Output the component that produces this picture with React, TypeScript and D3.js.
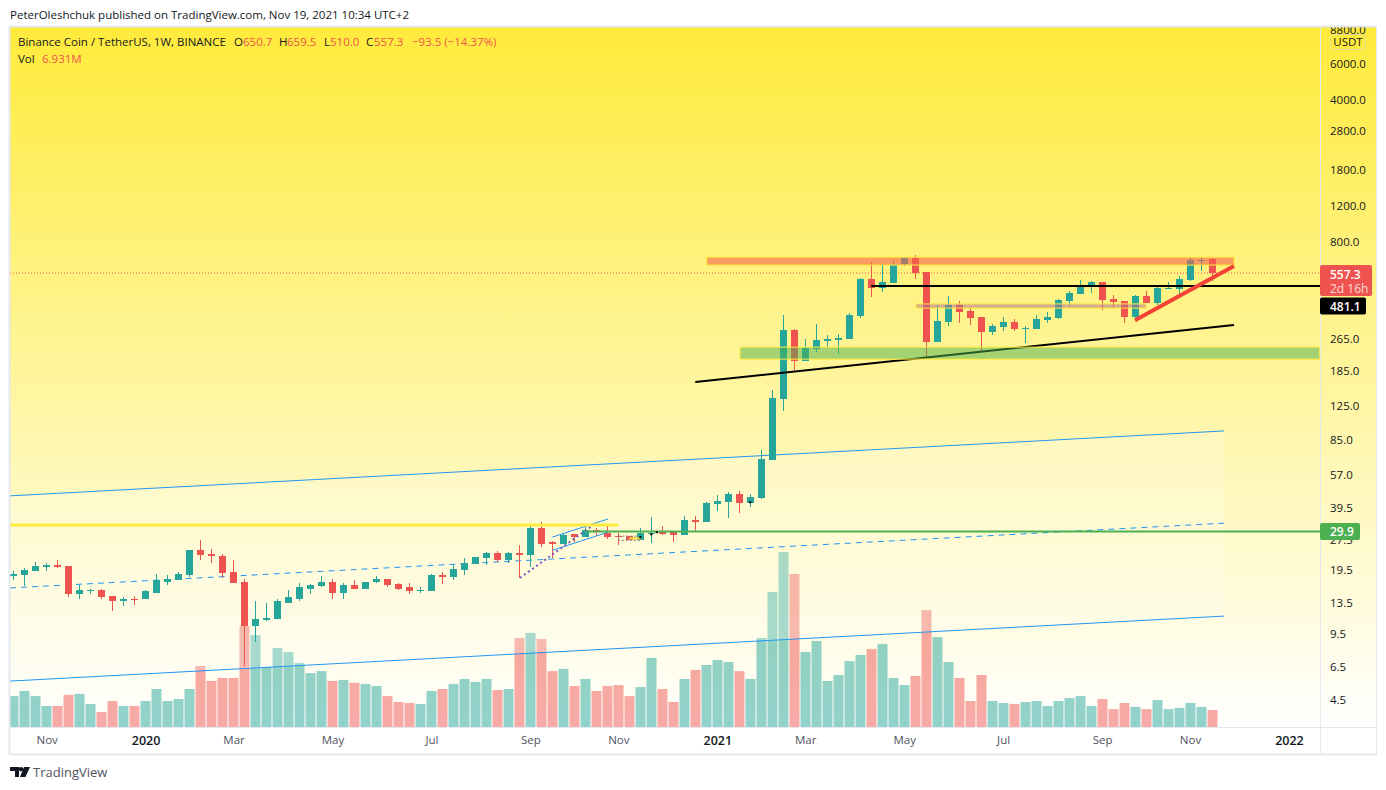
import { useEffect, useRef } from "react";
import * as d3 from "d3";

const opens = [18.1,18.3,19.1,20.0,20.4,20.2,14.7,15.2,15.5,14.35,13.6,14.0,13.9,15.0,17.0,17.2,18.3,24.2,23.1,22.6,18.9,16.9,10.25,10.96,11.1,13.4,14.0,15.7,16.1,17.0,15.0,16.3,15.7,16.9,17.5,16.5,15.9,15.2,15.2,18.3,17.9,19.3,20.7,22.1,23.4,21.6,23.4,22.9,31.1,26.5,25.9,29.0,28.1,30.4,29.4,28.4,28.4,27.1,29.0,29.7,29.7,28.7,34.0,33.3,40.8,41.7,45.7,41.3,43.7,67.1,134,292,205.7,236,258,261,264,343,521,470,498,617,660.5,564,255,320,388,363,339,286,302.5,320,296,296,327,335,406,440,476,504,415.5,406,339,430,397,465,465,515,638,650.7];
const highs = [19.1,19.8,21.1,20.9,21.6,20.3,16.3,15.7,15.7,14.35,14.2,14.35,15.4,18.5,18.3,18.9,24.2,27.1,24.5,23.1,21.6,17.5,13.6,13.3,14.0,15.4,16.7,16.5,18.1,17.5,16.7,17.2,17.0,18.1,17.5,16.7,16.7,15.9,18.5,18.9,20.4,22.1,22.4,23.7,23.9,23.7,25.6,32.1,33.3,26.8,29.4,29.0,31.8,31.1,32.1,29.4,28.4,31.1,35.2,31.8,29.7,35.6,35.6,41.7,45.2,46.7,47.2,45.7,75.1,148,347,296,264,313,276,279.5,355,527,631,610,638,668,683,564,388,430,406,375,339,313,339,331,306,347,359,415.5,455,515,509,504,435,406,435,455,476,504,539,668,660.5,659.5];
const lows = [17.2,16.1,19.1,19.1,19.8,14.2,13.9,14.7,14.0,12.15,12.85,13.0,13.9,14.85,16.3,17.2,17.9,21.6,20.9,17.7,16.7,6.5,8.6,10.84,11.1,13.4,13.6,14.7,15.9,13.9,13.9,15.7,15.7,16.7,15.9,15.4,14.7,15.0,15.2,16.5,17.2,18.3,20.7,20.4,21.1,20.9,17.7,20.0,25.0,22.1,25.9,26.5,28.1,28.4,27.4,25.6,27.1,27.1,26.2,28.7,26.5,28.7,29.7,33.3,37.7,34.8,36.9,39.5,43.2,67.1,117,186,205.7,228,241,222.5,264,335,425,450,498,603,521,215,255,306,316.5,309.5,228,276,289,289,252.5,296,316.5,331,384,440,445,367,380,316.5,327,397,388,465,440,509,570,510];
const closes = [18.5,19.3,20.2,20.4,20.0,14.7,15.4,15.5,14.2,13.6,14.0,13.9,15.2,17.2,17.5,18.5,24.2,22.9,22.6,18.7,16.7,10.25,11.1,11.2,13.6,14.2,15.9,16.3,17.0,15.0,16.3,15.7,17.0,17.5,16.3,15.7,15.2,15.4,18.3,17.9,19.5,20.9,22.4,23.4,21.6,23.4,22.9,31.1,25.9,25.9,28.7,28.1,30.4,29.7,28.1,28.1,27.1,29.4,29.4,29.0,28.7,34.0,33.3,41.3,42.2,45.7,41.3,44.2,68,135,292,205.7,238.5,261,264,267,347,521,470,504,610,660.5,557,255,324,388,359,335,286,306,320,296,299,331,339,411,445,476,504,411,402,339,430,397,470,470,521,645.6,645.6,557.3];
// volume in millions
const volumes = [12.6,14.7,12.6,8.6,8.6,13.1,13.5,9.4,6.1,10.6,8.6,8.6,10.6,15.5,10.6,11.4,15.5,24.9,18.8,20.0,20.0,41.2,37.5,24.5,32.2,30.6,26.1,22.0,22.8,18.8,19.2,18.0,17.5,16.7,12.6,10.2,9.8,9.4,14.7,15.5,17.5,19.6,18.4,19.6,15.1,15.5,36.3,38.4,35.9,22.8,23.7,16.7,19.6,14.7,16.7,17.1,12.6,16.3,28.2,15.5,10.2,19.6,23.3,25.3,27.3,26.5,22.8,19.6,36.3,55.1,71.4,62.4,30.6,35.1,18.8,21.2,26.9,29.4,31.8,33.9,20.0,17.1,20.8,47.7,36.7,26.5,20.0,10.6,21.2,10.6,9.8,9.4,10.2,10.6,8.6,10.6,11.8,12.6,8.6,11.4,7.3,9.8,8.2,7.3,11.0,7.3,7.8,9.8,8.2,6.931];

const priceTicks = [8800,6000,4000,2800,1800,1200,800,265,185,125,85,57,39.5,27.5,19.5,13.5,9.5,6.5,4.5];
const timeTickBars = [3,12,20,29,38,47,55,64,72,81,90,99,107,116];
const timeTickLabels = ["Nov","2020","Mar","May","Jul","Sep","Nov","2021","Mar","May","Jul","Sep","Nov","2022"];

// drawings, as [bar number, price]
const channelUpper = [[-0.34,44.8],[110.1,93.4]];
const channelMiddle = [[-0.34,15.8],[110.1,32.9]];
const channelLower = [[-0.34,5.51],[110.1,11.5]];
const flagUpper = [[49,28.1],[54.06,34.5]];
const flagLower = [[49,24.2],[54.06,29.7]];
const flagPole = [[46.05,17.7],[52.7,32.2]];
const oldResistance = [[-0.34,32.2],[55,32.2]];
const smallRange = [[55,28.4],[57.06,27.1]];
const smallRangeMid = [[56,27.7],[57,27.7]];
const blackMarks = [[57,28.1],[58,29],[58.5,29.7],[67,41.7]];
const supportLine = [[62,162.5],[111,309.6]];
const risingLine = [[102,327],[111,603]];
const topZone = [[63.05,667],[111,610]];
const midZone = [[82.08,393],[103,375]];
const baseZone = [[66.07,241],[118.8,210.5]];
const levelBlackStart = 78;
const levelGreenStart = 52;
const levelBlack = 481.1;
const levelGreen = 29.9;
const lastClose = 557.3;

const legendPieces: [string, number, boolean][] = [
  ["Binance Coin / TetherUS, 1W, BINANCE", 18, false],
  ["O", 234, false],
  ["650.7", 243, true],
  ["H", 279, false],
  ["659.5", 287, true],
  ["L", 324, false],
  ["510.0", 330, true],
  ["C", 366, false],
  ["557.3", 374, true],
  ["\u221293.5 (\u221214.37%)", 412, true],
];

const UP = "#26a69a";
const DOWN = "#ef5350";
const FONT = "'Open Sans', sans-serif";

const App = () => {
  const svgRef = useRef<SVGSVGElement>(null);

  useEffect(() => {
    const svg = d3.select(svgRef.current);
    svg.selectAll("*").remove();

    const left = 10;
    const right = 1320;
    const paneRight = 1376;
    const top = 27;
    const bottom = 727;

    const x = d3.scaleLinear().domain([0, 109]).range([13.7, 1212]);
    const y = d3.scaleLog().domain([6000, 4.5]).range([63, 699]);
    const yVol = d3.scaleLinear().domain([0, 71.4]).range([727, 552]);
    const px = (i: number) => Math.round(x(i) - 0.5) + 0.5;
    const line = d3
      .line<number[]>()
      .x((d) => x(d[0]))
      .y((d) => y(d[1]));

    const defs = svg.append("defs");
    const grad = defs
      .append("linearGradient")
      .attr("id", "bg")
      .attr("x1", 0)
      .attr("y1", 0)
      .attr("x2", 0)
      .attr("y2", 1);
    grad.append("stop").attr("offset", 0).attr("stop-color", "#ffeb3b");
    grad.append("stop").attr("offset", 1).attr("stop-color", "#ffffff");
    defs
      .append("clipPath")
      .attr("id", "plot")
      .append("rect")
      .attr("x", left)
      .attr("y", top)
      .attr("width", right - left)
      .attr("height", bottom - top);
    defs
      .append("clipPath")
      .attr("id", "pane")
      .append("rect")
      .attr("x", right)
      .attr("y", top)
      .attr("width", paneRight - right)
      .attr("height", bottom - top);

    svg
      .append("rect")
      .attr("width", 1386)
      .attr("height", 790)
      .attr("fill", "#fff");
    svg
      .append("rect")
      .attr("x", left)
      .attr("y", top)
      .attr("width", paneRight - left)
      .attr("height", bottom - top)
      .attr("fill", "url(#bg)");

    const plot = svg.append("g").attr("clip-path", "url(#plot)");

    // volume
    plot
      .append("g")
      .selectAll("rect")
      .data(volumes)
      .join("rect")
      .attr("x", (_, i) => px(i) - 5)
      .attr("y", (d) => yVol(d))
      .attr("width", 10)
      .attr("height", (d) => yVol(0) - yVol(d))
      .attr("fill", (_, i) => (closes[i] >= opens[i] ? UP : DOWN))
      .attr("fill-opacity", 0.5);

    // channel fill sits over the volume, under the candles
    const channelShape = [...channelUpper, ...[...channelLower].reverse()];
    plot
      .append("path")
      .attr("d", line(channelShape) + "Z")
      .attr("fill", "#fff")
      .attr("fill-opacity", 0.2);
    [channelUpper, channelMiddle, channelLower].forEach((pts, k) => {
      plot
        .append("path")
        .attr("d", line(pts))
        .attr("fill", "none")
        .attr("stroke", "#2196f3")
        .attr("stroke-width", 1)
        .attr("stroke-dasharray", k === 1 ? "6 5" : null);
    });

    // last price
    plot
      .append("line")
      .attr("x1", left)
      .attr("x2", right)
      .attr("y1", y(lastClose))
      .attr("y2", y(lastClose))
      .attr("stroke", DOWN)
      .attr("stroke-dasharray", "1 2");

    // candles
    const bars = plot.append("g");
    opens.forEach((o, i) => {
      const c = closes[i];
      const color = c >= o ? UP : DOWN;
      const bodyTop = Math.round(y(Math.max(o, c)));
      const bodyBottom = Math.round(y(Math.min(o, c)));
      bars
        .append("rect")
        .attr("x", px(i) - 0.5)
        .attr("y", Math.round(y(highs[i])))
        .attr("width", 1)
        .attr("height", Math.round(y(lows[i])) - Math.round(y(highs[i])))
        .attr("fill", color);
      bars
        .append("rect")
        .attr("x", px(i) - 3.5)
        .attr("y", bodyTop)
        .attr("width", 7)
        .attr("height", Math.max(1, bodyBottom - bodyTop))
        .attr("fill", color);
    });

    // small drawings around the 2020 flag
    [flagUpper, flagLower].forEach((pts) => {
      plot
        .append("path")
        .attr("d", line(pts))
        .attr("fill", "none")
        .attr("stroke", "#2196f3")
        .attr("stroke-width", 1);
    });
    plot
      .append("path")
      .attr("d", line(flagPole))
      .attr("fill", "none")
      .attr("stroke", "#7e57c2")
      .attr("stroke-width", 2)
      .attr("stroke-dasharray", "2 3");
    plot
      .append("rect")
      .attr("x", x(smallRange[0][0]))
      .attr("y", y(smallRange[0][1]))
      .attr("width", x(smallRange[1][0]) - x(smallRange[0][0]))
      .attr("height", y(smallRange[1][1]) - y(smallRange[0][1]))
      .attr("fill", "none")
      .attr("stroke", "#787b86")
      .attr("stroke-dasharray", "2 2");
    plot
      .append("path")
      .attr("d", line(smallRangeMid))
      .attr("fill", "none")
      .attr("stroke", "#fdd835")
      .attr("stroke-width", 2);

    plot
      .append("path")
      .attr("d", line(oldResistance))
      .attr("fill", "none")
      .attr("stroke", "#ffeb3b")
      .attr("stroke-width", 3);
    plot
      .append("path")
      .attr("d", line(supportLine))
      .attr("fill", "none")
      .attr("stroke", "#000")
      .attr("stroke-width", 2);

    // zones
    const zone = (pts: number[][], color: string, alpha: number) => {
      plot
        .append("rect")
        .attr("x", x(pts[0][0]))
        .attr("y", y(pts[0][1]))
        .attr("width", x(pts[1][0]) - x(pts[0][0]))
        .attr("height", y(pts[1][1]) - y(pts[0][1]))
        .attr("fill", color)
        .attr("fill-opacity", alpha)
        .attr("stroke", "#ffeb3b")
        .attr("stroke-width", 1);
    };
    zone(baseZone, "#4caf50", 0.5);
    zone(topZone, "#f7624d", 0.6);
    zone(midZone, "#b06a9a", 0.5);

    // levels
    plot
      .append("line")
      .attr("x1", x(levelGreenStart))
      .attr("x2", right)
      .attr("y1", y(levelGreen))
      .attr("y2", y(levelGreen))
      .attr("stroke", "#4caf50")
      .attr("stroke-width", 2);
    plot
      .selectAll(".mark")
      .data(blackMarks)
      .join("rect")
      .attr("x", (d) => x(d[0]) - 1)
      .attr("y", (d) => y(d[1]) - 1)
      .attr("width", 2)
      .attr("height", 2)
      .attr("fill", "#000");
    plot
      .append("line")
      .attr("x1", x(levelBlackStart))
      .attr("x2", right)
      .attr("y1", y(levelBlack))
      .attr("y2", y(levelBlack))
      .attr("stroke", "#000")
      .attr("stroke-width", 2);
    plot
      .append("path")
      .attr("d", line(risingLine))
      .attr("fill", "none")
      .attr("stroke", "#f44336")
      .attr("stroke-width", 4);

    // price axis
    const priceAxis = d3
      .axisRight(y)
      .tickValues(priceTicks)
      .tickFormat((d) => (+d).toFixed(1))
      .tickSize(0)
      .tickPadding(10);
    const paneClip = svg.append("g").attr("clip-path", "url(#pane)");
    const axisG = paneClip
      .append("g")
      .attr("transform", `translate(${right},0.5)`)
      .call(priceAxis);
    axisG.select(".domain").remove();
    axisG
      .selectAll("text")
      .attr("font-family", FONT)
      .attr("font-size", 11.5)
      .attr("fill", "#131722");

    // time axis
    const timeAxis = d3
      .axisBottom(x)
      .tickValues(timeTickBars)
      .tickFormat((_, i) => timeTickLabels[i])
      .tickSize(0)
      .tickPadding(9);
    const timeG = svg
      .append("g")
      .attr("transform", `translate(0,${bottom})`)
      .call(timeAxis);
    timeG.select(".domain").remove();
    timeG
      .selectAll("text")
      .attr("font-family", FONT)
      .attr("font-size", (_, i) => (/^\d/.test(timeTickLabels[i]) ? 12.5 : 11.5))
      .attr("fill", (_, i) => (/^\d/.test(timeTickLabels[i]) ? "#131722" : "#50535e"))
      .attr("font-weight", (_, i) => (/^\d/.test(timeTickLabels[i]) ? 600 : 400));

    // frame
    const frame = "#e6e8ef";
    [
      [left - 0.5, top - 0.5, paneRight + 0.5, top - 0.5],
      [left - 0.5, top - 0.5, left - 0.5, 755],
      [left, 754.5, paneRight + 0.5, 754.5],
      [paneRight + 0.5, top - 0.5, paneRight + 0.5, 755],
      [right + 0.5, top, right + 0.5, 755],
      [left, bottom + 0.5, paneRight, bottom + 0.5],
    ].forEach(([x1, y1, x2, y2]) => {
      svg
        .append("line")
        .attr("x1", x1)
        .attr("y1", y1)
        .attr("x2", x2)
        .attr("y2", y2)
        .attr("stroke", frame)
        .attr("stroke-width", y1 === 754.5 || x1 === left - 0.5 ? 2 : 1);
    });

    // currency chip
    svg
      .append("rect")
      .attr("x", 1330.5)
      .attr("y", 34.5)
      .attr("width", 35)
      .attr("height", 15)
      .attr("rx", 4)
      .attr("fill", "#ffeb3b")
      .attr("stroke", "#e0dd9a");
    svg
      .append("text")
      .attr("x", 1348)
      .attr("y", 46)
      .attr("text-anchor", "middle")
      .attr("font-family", FONT)
      .attr("font-size", 11.5)
      .attr("fill", "#131722")
      .text("USDT");

    // price tags
    const tag = (
      yMid: number,
      h: number,
      w: number,
      color: string,
      lines: [string, number][],
    ) => {
      svg
        .append("rect")
        .attr("x", right)
        .attr("y", yMid - h / 2)
        .attr("width", w)
        .attr("height", h)
        .attr("rx", 2)
        .attr("fill", color);
      lines.forEach(([t, dy], k) => {
        svg
          .append("text")
          .attr("x", right + 10)
          .attr("y", yMid + dy)
          .attr("font-family", FONT)
          .attr("font-size", 12)
          .attr("font-weight", k === 0 ? 600 : 400)
          .attr("fill", "#fff")
          .attr("fill-opacity", k === 0 ? 1 : 0.8)
          .text(t);
      });
    };
    tag(y(lastClose) + 7.5, 31, 52, DOWN, [
      ["557.3", -2],
      ["2d 16h", 12],
    ]);
    tag(y(levelBlack) + 20, 17, 46, "#000", [["481.1", 4.5]]);
    tag(y(levelGreen), 17, 40, "#4caf50", [["29.9", 4.5]]);

    // header and legend
    const label = (
      t: string,
      tx: number,
      ty: number,
      color: string,
      size = 11.5,
    ) =>
      svg
        .append("text")
        .attr("x", tx)
        .attr("y", ty)
        .attr("font-family", FONT)
        .attr("font-size", size)
        .attr("fill", color)
        .text(t);
    label(
      "PeterOleshchuk published on TradingView.com, Nov 19, 2021 10:34 UTC+2",
      10,
      19,
      "#131722",
    );
    legendPieces.forEach(([t, tx, red]) =>
      label(t, tx, 46, red ? DOWN : "#131722"),
    );
    label("Vol", 18, 63, "#131722");
    label("6.931M", 42, 63, DOWN);

    // logo
    svg
      .append("path")
      .attr("d", "M10 767h9v10h-4v-6h-5zM24 767h6l-4.5 10h-5.5zM21 767a2.2 2.2 0 1 1-.01 0z")
      .attr("fill", "#131722");
    label("TradingView", 33, 777, "#50535e", 13);
  }, []);

  return (
    <svg
      ref={svgRef}
      width={1386}
      height={790}
      style={{ position: "absolute", left: 0, top: 0 }}
    />
  );
};

export default App;
